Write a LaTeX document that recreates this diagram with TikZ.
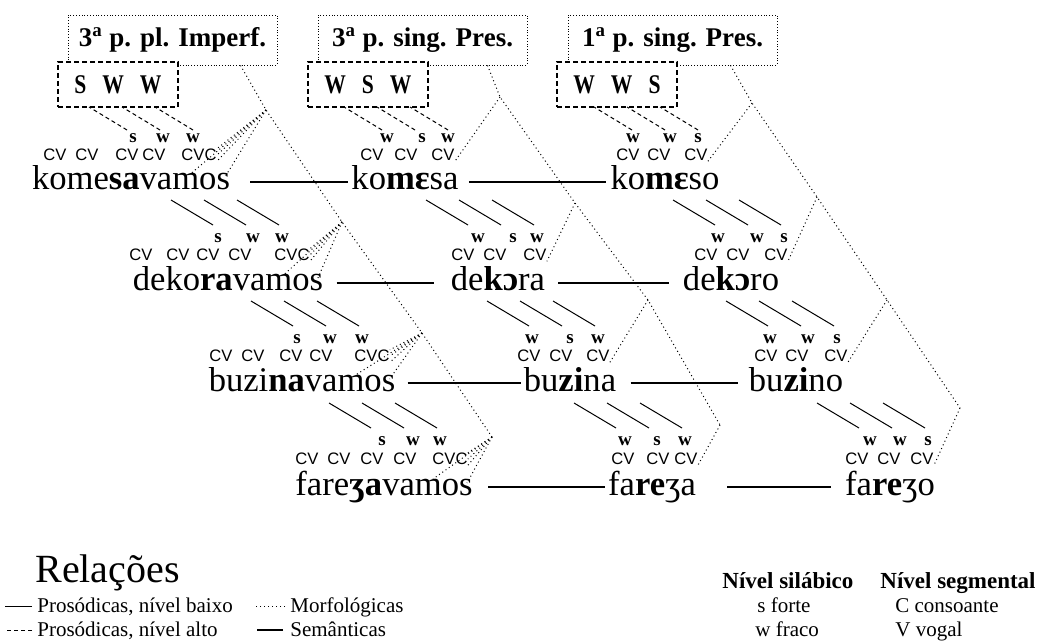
\documentclass[tikz,border=0pt]{standalone}
\usepackage{fontspec}
\setmainfont{Liberation Serif}
\newfontfamily\cvfont{Liberation Sans}
\newfontfamily\swfont[FakeStretch=0.8]{Liberation Serif}
\usetikzlibrary{calc}

\begin{document}
\begin{tikzpicture}[x=0.5pt,y=-0.5pt,
    word/.style={inner sep=0pt,text height=12pt,text depth=4pt,font=\fontsize{17.3}{18}\selectfont},
    cv/.style={inner sep=0pt,font=\cvfont\fontsize{8.3}{9}\selectfont},
    wt/.style={inner sep=0pt,font=\bfseries\fontsize{9.5}{10}\selectfont},
    head/.style={draw,densely dotted,minimum width=104.5pt,minimum height=25pt,inner sep=0pt,font=\bfseries\fontsize{13.5}{14}\selectfont},
    foot/.style={draw,line width=0.7pt,dash pattern=on 2.5pt off 1.5pt,fill=white,minimum width=60pt,minimum height=22.5pt,inner sep=0pt,font=\swfont\bfseries\fontsize{13.5}{14}\selectfont},
    low/.style={line width=0.5pt},
    high/.style={line width=0.5pt,dash pattern=on 2pt off 1.5pt},
    morf/.style={line width=0.5pt,dash pattern=on 0.5pt off 1.5pt},
    sem/.style={line width=1.4pt},
    leg/.style={anchor=base west,inner sep=0pt,font=\fontsize{10.5}{11}\selectfont},
    legh/.style={leg,font=\bfseries\fontsize{11.5}{12}\selectfont}]

    \useasboundingbox (0,0) rectangle (1037,641);

    % cabecalhos
    \node[head] (hA) at (172.5,40) {3\textsuperscript{a} p. pl. Imperf.};
    \node[head] (hB) at (422.5,40) {3\textsuperscript{a} p. sing. Pres.};
    \node[head] (hC) at (672.5,40) {1\textsuperscript{a} p. sing. Pres.};
    \node[foot] (fA) at (118,84.5) {S\hspace{8pt}W\hspace{8pt}W};
    \node[foot] (fB) at (368,84.5) {W\hspace{8pt}S\hspace{8pt}W};
    \node[foot] (fC) at (617,84.5) {W\hspace{8pt}W\hspace{8pt}S};

    % linha 1
    \node[word] (A1) at (131,182) {kome\textbf{sa}vamos};
    \node[word] (B1) at (405,182) {ko\textbf{mɛ}sa};
    \node[word] (C1) at (665,182) {ko\textbf{mɛ}so};
    \foreach \x/\t [count=\n] in {55/CV,87/CV,127/CV,154/CV,199/CVC} \node[cv] (A1-\n) at (\x,155) {\t};
    \foreach \x [count=\n] in {372,406,443} \node[cv] (B1-\n) at (\x,155) {CV};
    \foreach \x [count=\n] in {628,659,696} \node[cv] (C1-\n) at (\x,155) {CV};
    \foreach \x/\t [count=\n] in {133/s,163/w,193/w} \node[wt] (A1w\n) at (\x,138) {\t};
    \foreach \x/\t [count=\n] in {387/w,422/s,448/w} \node[wt] (B1w\n) at (\x,138) {\t};
    \foreach \x/\t [count=\n] in {633/w,670/w,698/s} \node[wt] (C1w\n) at (\x,138) {\t};

    % linha 2
    \node[word] (A2) at (228,283) {deko\textbf{ra}vamos};
    \node[word] (B2) at (498,283) {de\textbf{kɔ}ra};
    \node[word] (C2) at (731,283) {de\textbf{kɔ}ro};
    \foreach \x/\t [count=\n] in {141/CV,178/CV,208/CV,240/CV,292/CVC} \node[cv] (A2-\n) at (\x,255) {\t};
    \foreach \x [count=\n] in {463,495,535} \node[cv] (B2-\n) at (\x,255) {CV};
    \foreach \x [count=\n] in {706,738,776} \node[cv] (C2-\n) at (\x,255) {CV};
    \foreach \x/\t [count=\n] in {218/s,253/w,282/w} \node[wt] (A2w\n) at (\x,238) {\t};
    \foreach \x/\t [count=\n] in {478/w,513/s,537/w} \node[wt] (B2w\n) at (\x,238) {\t};
    \foreach \x/\t [count=\n] in {718/w,757/w,784/s} \node[wt] (C2w\n) at (\x,238) {\t};

    % linha 3
    \node[word] (A3) at (302,383) {buzi\textbf{na}vamos};
    \node[word] (B3) at (570,383) {bu\textbf{zi}na};
    \node[word] (C3) at (796,383) {bu\textbf{zi}no};
    \foreach \x/\t [count=\n] in {221/CV,253/CV,291/CV,321/CV,372/CVC} \node[cv] (A3-\n) at (\x,356) {\t};
    \foreach \x [count=\n] in {529,561,598} \node[cv] (B3-\n) at (\x,356) {CV};
    \foreach \x [count=\n] in {766,797,836} \node[cv] (C3-\n) at (\x,356) {CV};
    \foreach \x/\t [count=\n] in {297/s,330/w,362/w} \node[wt] (A3w\n) at (\x,339) {\t};
    \foreach \x/\t [count=\n] in {532/w,570/s,598/w} \node[wt] (B3w\n) at (\x,339) {\t};
    \foreach \x/\t [count=\n] in {770/w,808/w,837/s} \node[wt] (C3w\n) at (\x,339) {\t};

    % linha 4
    \node[word] (A4) at (384,487) {fare\textbf{ʒa}vamos};
    \node[word] (B4) at (652,487) {fa\textbf{re}ʒa};
    \node[word] (C4) at (890,487) {fa\textbf{re}ʒo};
    \foreach \x/\t [count=\n] in {307/CV,339/CV,372/CV,405/CV,450/CVC} \node[cv] (A4-\n) at (\x,459) {\t};
    \foreach \x [count=\n] in {623,658,686} \node[cv] (B4-\n) at (\x,459) {CV};
    \foreach \x [count=\n] in {857,889,922} \node[cv] (C4-\n) at (\x,459) {CV};
    \foreach \x/\t [count=\n] in {382/s,413/w,440/w} \node[wt] (A4w\n) at (\x,441) {\t};
    \foreach \x/\t [count=\n] in {625/w,657/s,685/w} \node[wt] (B4w\n) at (\x,441) {\t};
    \foreach \x/\t [count=\n] in {870/w,900/w,928/s} \node[wt] (C4w\n) at (\x,441) {\t};

    % relacoes semanticas
    \draw[sem,shorten <=10pt,shorten >=1.5pt] (A1) -- (B1);
    \draw[sem,shorten <=5pt,shorten >=2pt] (B1) -- (C1);
    \draw[sem,shorten <=6.5pt,shorten >=8.5pt] (A2) -- (B2);
    \draw[sem,shorten <=6.5pt,shorten >=7pt] (B2) -- (C2);
    \draw[sem,shorten <=6pt,shorten >=1pt] (A3) -- (B3);
    \draw[sem,shorten <=7pt,shorten >=5.5pt] (B3) -- (C3);
    \draw[sem,shorten <=7.5pt,shorten >=1.5pt] (A4) -- (B4);
    \draw[sem,shorten <=15.5pt,shorten >=7pt] (B4) -- (C4);

    % prosodicas
    \foreach \col in {A,B,C} \foreach \k in {0,1,2}
        \draw[high] (\col1w3) ++(-33*\k,-8) -- ++(-38,-23);
    \foreach \rw in {2,3,4} \foreach \col in {A,B,C} \foreach \k in {0,1,2}
        \draw[low] (\col\rw w3) ++(-3-33*\k,-13) -- ++(-42,-25);

    % morfologicas
    \coordinate (vA1) at (266,110);
    \coordinate (vA2) at (342,222);
    \coordinate (vA3) at (422,333);
    \coordinate (vA4) at (492,437);
    \coordinate (vB1) at (500,97);
    \coordinate (vB2) at (575,203);
    \coordinate (vB3) at (648,300);
    \coordinate (vB4) at (720,425);
    \coordinate (vC1) at (752,103);
    \coordinate (vC2) at (817,197);
    \coordinate (vC3) at (887,300);
    \coordinate (vC4) at (960,408);
    \draw[morf] (hA.south) ++(68,0) -- (vA1) -- (vA2) -- (vA3) -- (vA4);
    \draw[morf] (hB.south) ++(65,0) -- (vB1) -- (vB2) -- (vB3) -- (vB4);
    \draw[morf] (hC.south) ++(58,0) -- (vC1) -- (vC2) -- (vC3) -- (vC4);
    \foreach \rw in {1,2,3,4} {
        \draw[morf] (vA\rw) -- (A\rw-5.north east);
        \draw[morf] (vA\rw) -- (A\rw-5.east);
        \draw[morf] (vA\rw) -- (A\rw-5.south east);
        \draw[morf] (vA\rw) -- ($(A\rw.east)+(-6,-4)$);
        \draw[morf] (vA\rw) -- ($(A\rw.east)+(-40,-8)$);
        \draw[morf] (vB\rw) -- (B\rw-3.south east);
        \draw[morf] (vC\rw) -- (C\rw-3.south east);
    }

    % legenda
    \node[anchor=base west,inner sep=0pt,font=\fontsize{20}{21}\selectfont] (rel) at (35,582) {Relações};
    \node[leg] (l1) at (37,612) {Prosódicas, nível baixo};
    \node[leg] (l2) at (37,636) {Prosódicas, nível alto};
    \node[leg] (l3) at (290,612) {Morfológicas};
    \node[leg] (l4) at (290,636) {Semânticas};
    \draw[low] (l1.base west) ++(-5,-6) -- ++(-27,0);
    \draw[high] (l2.base west) ++(-5,-6) -- ++(-27,0);
    \draw[morf] (l3.base west) ++(-5,-6) -- ++(-30,0);
    \draw[sem] (l4.base west) ++(-7,-6) -- ++(-26,0);
    \node[legh] (ns) at (722,588) {Nível silábico};
    \node[leg] (sf) at (757,612) {s forte};
    \node[leg] (wf) at (755,636) {w fraco};
    \node[legh] (ng) at (880,588) {Nível segmental};
    \node[leg] (cc) at (895,612) {C consoante};
    \node[leg] (vv) at (895,636) {V vogal};

\end{tikzpicture}
\end{document}
